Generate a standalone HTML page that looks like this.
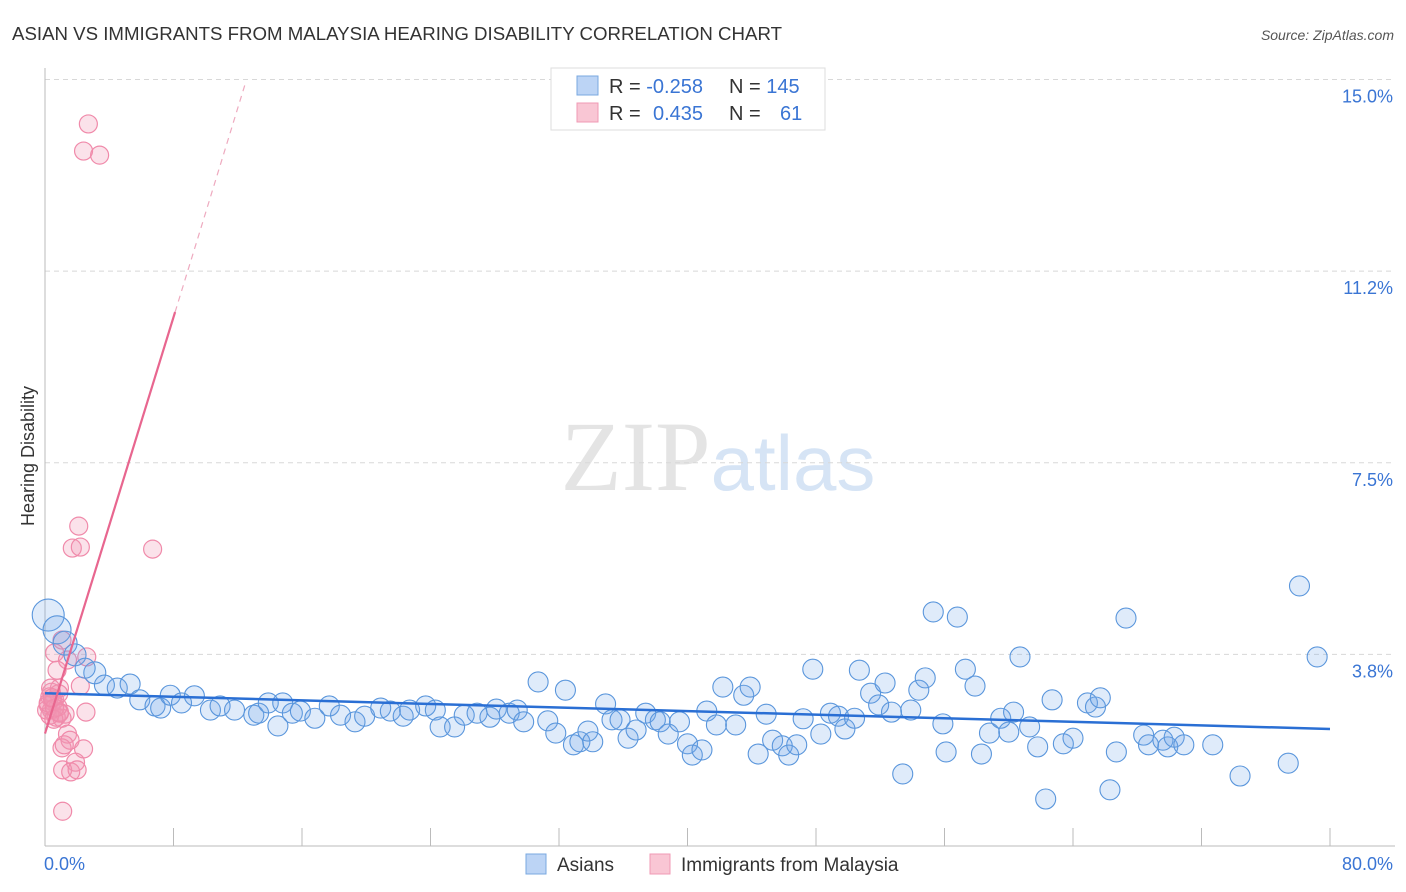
<!DOCTYPE html>
<html><head><meta charset="utf-8"><style>
body{margin:0;background:#fff;font-family:"Liberation Sans",sans-serif;}
svg{display:block}
</style></head><body>
<svg id="chart" width="1406" height="892" viewBox="0 0 1406 892" xmlns="http://www.w3.org/2000/svg">
<text x="12" y="40" font-size="18" fill="#333" textLength="770" lengthAdjust="spacingAndGlyphs">ASIAN VS IMMIGRANTS FROM MALAYSIA HEARING DISABILITY CORRELATION CHART</text>
<text x="1394" y="40" font-size="14" fill="#555" text-anchor="end" font-style="italic">Source: ZipAtlas.com</text>
<text x="718" y="490" font-size="100" text-anchor="middle" font-family="Liberation Serif,serif" fill="#e4e4e4">ZIP<tspan fill="#d6e4f5" font-family="Liberation Sans,sans-serif" font-size="78">atlas</tspan></text>
<g id="grid"></g>
<g id="axes"></g>
<g id="pink"></g>
<g id="blue"></g>
<g id="trends"></g>
<text transform="translate(34,456) rotate(-90)" font-size="18" fill="#333" text-anchor="middle">Hearing Disability</text>
<g>
<rect x="551" y="68" width="274" height="62" fill="#fff" stroke="#ddd"/>
<rect x="577" y="76" width="21" height="19" fill="#bcd4f5" stroke="#7aa8e0"/>
<rect x="577" y="103" width="21" height="19" fill="#f9c6d4" stroke="#f09ab4"/>
<text x="609" y="93" font-size="20" fill="#333">R = <tspan fill="#3a75d4">-0.258</tspan><tspan x="729">N = </tspan><tspan fill="#3a75d4">145</tspan></text>
<text x="609" y="120" font-size="20" fill="#333">R = <tspan fill="#3a75d4" x="653">0.435</tspan><tspan x="729">N = </tspan><tspan fill="#3a75d4" x="780">61</tspan></text>
</g>
<g>
<rect x="526" y="854" width="20" height="20" fill="#bcd4f5" stroke="#7aa8e0"/>
<text x="557" y="871" font-size="19" fill="#333">Asians</text>
<rect x="650" y="854" width="20" height="20" fill="#f9c6d4" stroke="#f09ab4"/>
<text x="681" y="871" font-size="19" fill="#333">Immigrants from Malaysia</text>
</g>
</svg>
<script>
const yTicks=[15.0,11.25,7.5,3.75];
const yTickLabels=["15.0%","11.2%","7.5%","3.8%"];
const xTickLabels=["0.0%","80.0%"];
const blueX=[0.2,0.75,1.25,1.87,3.1,2.5,3.7,4.5,5.3,5.9,6.85,7.2,7.8,8.5,9.3,10.3,10.9,11.8,13.0,13.3,13.9,14.5,14.8,15.4,15.9,16.8,17.7,18.4,19.3,19.9,20.9,21.5,22.3,22.7,23.7,24.3,24.6,25.5,26.1,26.9,27.7,28.1,28.9,29.4,29.8,30.7,31.3,31.8,32.4,32.9,33.3,33.8,34.1,34.9,35.3,35.8,36.3,36.8,37.4,38.0,38.3,38.8,39.5,40.0,40.3,40.9,41.2,41.8,42.2,43.0,43.5,43.9,44.4,44.9,45.3,45.9,46.3,46.8,47.2,47.8,48.3,48.9,49.4,49.8,50.4,50.7,51.4,51.9,52.3,52.7,53.4,53.9,54.4,54.8,55.3,55.9,56.1,56.8,57.3,57.9,58.3,58.8,59.5,60.0,60.3,60.7,61.3,61.8,62.3,62.7,63.4,64.0,64.9,65.4,65.7,66.3,66.7,67.3,68.4,68.7,69.6,69.9,70.3,70.9,72.7,74.4,77.4,78.1,79.2];
const blueY=[4.52,4.23,3.97,3.74,3.39,3.48,3.15,3.09,3.17,2.86,2.74,2.70,2.95,2.80,2.94,2.66,2.74,2.66,2.56,2.60,2.80,2.35,2.80,2.60,2.64,2.50,2.74,2.56,2.43,2.54,2.70,2.64,2.54,2.66,2.74,2.66,2.33,2.33,2.56,2.60,2.52,2.68,2.60,2.66,2.43,3.21,2.45,2.21,3.05,1.98,2.04,2.25,2.04,2.78,2.47,2.47,2.11,2.27,2.60,2.47,2.43,2.19,2.43,2.00,1.78,1.88,2.64,2.37,3.11,2.37,2.95,3.11,1.80,2.58,2.07,1.96,1.78,1.98,2.49,3.46,2.19,2.60,2.54,2.29,2.50,3.44,2.99,2.76,3.19,2.62,1.41,2.66,3.05,3.29,4.58,2.39,1.84,4.48,3.46,3.13,1.80,2.21,2.50,2.23,2.62,3.70,2.33,1.94,0.92,2.86,2.00,2.11,2.80,2.72,2.90,1.10,1.84,4.46,2.17,1.98,2.07,1.94,2.13,1.98,1.98,1.37,1.62,5.09,3.70];
const blueR=[16,14,12,11,11,10,10,10,10,10];
const pinkX=[2.7,2.4,3.4,2.1,1.7,2.2,6.7,1.06,0.6,2.6,1.4,0.75,2.2,0.4,0.9,0.3,0.6,0.2,0.4,0.9,1.25,0.7,1.06,0.3,2.55,1.4,1.56,1.06,2.4,1.2,1.9,1.1,1.6,2.0,1.1,0.5,0.8,0.1,0.55,0.85,0.35,0.2,0.6,0.9,0.45];
const pinkY=[14.13,13.60,13.52,6.26,5.83,5.85,5.81,4.03,3.78,3.70,3.64,3.44,3.13,3.01,3.09,2.92,2.86,2.76,2.66,2.62,2.58,2.52,2.50,2.56,2.62,2.19,2.07,1.92,1.90,1.98,1.64,1.49,1.45,1.49,0.68,2.82,2.72,2.66,2.48,2.98,3.09,2.80,2.70,2.60,2.90];
const blueTrend=[[0,2.99],[80,2.29]];
const pinkTrend=[[0,2.2],[8.1,10.45]];
const pinkDash=[[8.1,10.45],[12.45,14.9]];

const X0=45,X1=1330,YB=846,PPY=51.1;
function sx(v){return X0+(v/80)*(X1-X0);}
function sy(v){return YB-v*PPY;}
const NS="http://www.w3.org/2000/svg";
function mk(tag,attrs,parent){const e=document.createElementNS(NS,tag);for(const k in attrs)e.setAttribute(k,attrs[k]);parent.appendChild(e);return e;}
const grid=document.getElementById('grid'),axes=document.getElementById('axes');
yTicks.forEach((t,i)=>{
 const l=mk('line',{x1:X0,x2:1395,y1:sy(t),y2:sy(t),stroke:'#d8d8d8','stroke-dasharray':'5,4'},grid);
 
 
 const tx=mk('text',{x:1393,y:sy(t)+23,'font-size':18,fill:'#3a75d4','text-anchor':'end'},axes);
 tx.textContent=yTickLabels[i];
 
 
});
const ya=mk('line',{x1:X0,x2:X0,y1:68,y2:YB,stroke:'#bbb'},axes);


const xa=mk('line',{x1:X0,x2:1395,y1:YB,y2:YB,stroke:'#bbb'},axes);


for(let i=0;i<=10;i++){
 const tk=mk('line',{x1:sx(i*8),x2:sx(i*8),y1:828,y2:YB,stroke:'#bbb'},axes);
 
 
}
const xl0=mk('text',{x:44,y:870,'font-size':18,fill:'#3a75d4'},axes);xl0.textContent=xTickLabels[0];


const xl1=mk('text',{x:1393,y:870,'font-size':18,fill:'#3a75d4','text-anchor':'end'},axes);xl1.textContent=xTickLabels[1];


const pg=document.getElementById('pink');
pinkX.forEach((x,i)=>{
 const c=mk('circle',{cx:sx(x),cy:sy(pinkY[i]),r:9,fill:'rgba(242,150,180,0.28)',stroke:'#f08aaa','stroke-width':1.2},pg);
 
 
});
const bg=document.getElementById('blue');
blueX.forEach((x,i)=>{
 const c=mk('circle',{cx:sx(x),cy:sy(blueY[i]),r:blueR[i]||10,fill:'rgba(110,165,230,0.22)',stroke:'#5a96dc','stroke-width':1.1},bg);
 
 
});
const tg=document.getElementById('trends');
const bt=mk('line',{x1:sx(blueTrend[0][0]),y1:sy(blueTrend[0][1]),x2:sx(blueTrend[1][0]),y2:sy(blueTrend[1][1]),stroke:'#2a6fd4','stroke-width':2.5},tg);


const pt=mk('line',{x1:sx(pinkTrend[0][0]),y1:sy(pinkTrend[0][1]),x2:sx(pinkTrend[1][0]),y2:sy(pinkTrend[1][1]),stroke:'#e8668f','stroke-width':2.2},tg);


const pd=mk('line',{x1:sx(pinkDash[0][0]),y1:sy(pinkDash[0][1]),x2:sx(pinkDash[1][0]),y2:sy(pinkDash[1][1]),stroke:'#eeaabf','stroke-width':1.2,'stroke-dasharray':'6,5'},tg);


</script>
</body></html>
